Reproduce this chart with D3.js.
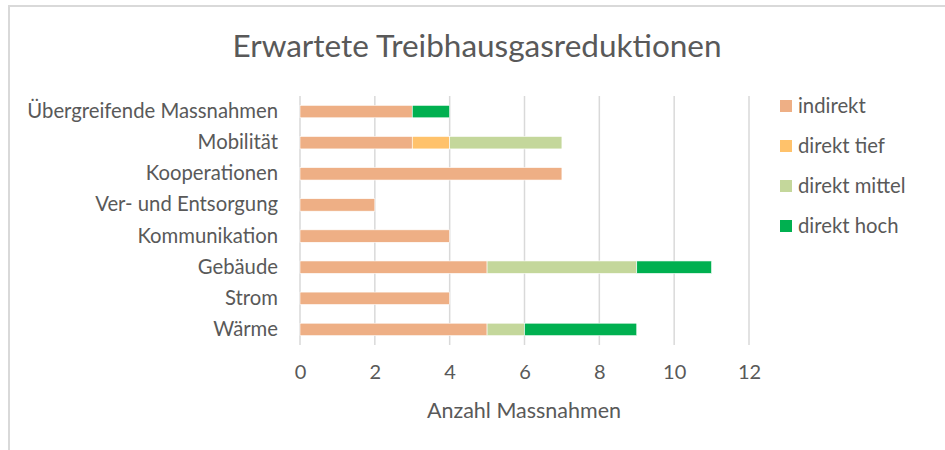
<!DOCTYPE html>
<html>
<head>
<meta charset="utf-8">
<script src="https://cdn.jsdelivr.net/npm/d3@7"></script>
<style>
    body { margin: 0; background: #fff; }
    text { font-family: Lato, "Open Sans", sans-serif; fill: #595959; }
</style>
</head>
<body>
<script>
// categories from top to bottom
const categories = ['Übergreifende Massnahmen', 'Mobilität', 'Kooperationen', 'Ver- und Entsorgung',
    'Kommunikation', 'Gebäude', 'Strom', 'Wärme'];

const seriesNames = ['indirekt', 'direkt tief', 'direkt mittel', 'direkt hoch'];
const seriesColors = ['#EEAF85', '#FFC26B', '#C4D79B', '#00B050'];

const indirekt = [3, 3, 7, 2, 4, 5, 4, 5];
const direktTief = [0, 1, 0, 0, 0, 0, 0, 0];
const direktMittel = [0, 3, 0, 0, 0, 4, 0, 1];
const direktHoch = [1, 0, 0, 0, 0, 2, 0, 3];

const xTicks = [0, 2, 4, 6, 8, 10, 12];

let width = 945,
    height = 450;

const rows = categories.map(function (c, i) {
    return {
        cat: c,
        'indirekt': indirekt[i],
        'direkt tief': direktTief[i],
        'direkt mittel': direktMittel[i],
        'direkt hoch': direktHoch[i]
    };
});

const svg = d3.select('body').append('svg')
    .attr('width', width)
    .attr('height', height);

// outer chart border (only top and left are visible in the crop)
svg.append('path')
    .attr('d', 'M9,' + height + 'V6H' + width)
    .attr('fill', 'none')
    .attr('stroke', '#d9d9d9')
    .attr('stroke-width', 2);

const x = d3.scaleLinear()
    .domain([0, 12])
    .range([300, 749]);

const y = d3.scaleBand()
    .domain(categories)
    .range([96, 345])
    .paddingInner(0.6)
    .paddingOuter(0.3);

const color = d3.scaleOrdinal()
    .domain(seriesNames)
    .range(seriesColors);

svg.append('text')
    .attr('x', 477)
    .attr('y', 57)
    .attr('text-anchor', 'middle')
    .attr('font-size', 31.5)
    .text('Erwartete Treibhausgasreduktionen');

// gridlines
svg.append('g')
    .selectAll('line')
    .data(xTicks)
    .enter().append('line')
    .attr('x1', function (d) { return x(d); })
    .attr('x2', function (d) { return x(d); })
    .attr('y1', 96)
    .attr('y2', 345)
    .attr('stroke', '#d9d9d9')
    .attr('stroke-width', 1.5);

const stack = d3.stack().keys(seriesNames);

svg.append('g')
    .selectAll('g')
    .data(stack(rows))
    .enter().append('g')
    .attr('fill', function (d) { return color(d.key); })
    .selectAll('rect')
    .data(function (d) { return d.filter(function (s) { return s[1] > s[0]; }); })
    .enter().append('rect')
    .attr('x', function (d) { return x(d[0]); })
    .attr('y', function (d) { return y(d.data.cat); })
    .attr('width', function (d) { return x(d[1]) - x(d[0]); })
    .attr('height', y.bandwidth())
    .attr('stroke', '#fff')
    .attr('stroke-width', 0.6);

// x axis labels
const xAxis = svg.append('g')
    .attr('transform', 'translate(0,345)')
    .call(d3.axisBottom(x).tickValues(xTicks).tickSize(0).tickPadding(20));
xAxis.select('.domain').remove();
xAxis.selectAll('text')
    .attr('font-size', 20)
    .attr('font-family', null)
    .style('fill', '#595959');

// y axis labels
const yAxis = svg.append('g')
    .attr('transform', 'translate(278,0)')
    .call(d3.axisLeft(y).tickSize(0).tickPadding(0));
yAxis.select('.domain').remove();
yAxis.selectAll('text')
    .attr('font-size', 20.3)
    .attr('font-family', null)
    .style('fill', '#595959');

svg.append('text')
    .attr('x', 524)
    .attr('y', 418)
    .attr('text-anchor', 'middle')
    .attr('font-size', 21.5)
    .text('Anzahl Massnahmen');

// legend
const legend = svg.append('g')
    .selectAll('g')
    .data(seriesNames)
    .enter().append('g')
    .attr('transform', function (d, i) { return 'translate(780,' + (100 + i * 40) + ')'; });

legend.append('rect')
    .attr('width', 12)
    .attr('height', 12)
    .attr('fill', function (d) { return color(d); });

legend.append('text')
    .attr('x', 18)
    .attr('y', 6)
    .attr('dy', '0.35em')
    .attr('font-size', 20.3)
    .text(function (d) { return d; });
</script>
</body>
</html>
